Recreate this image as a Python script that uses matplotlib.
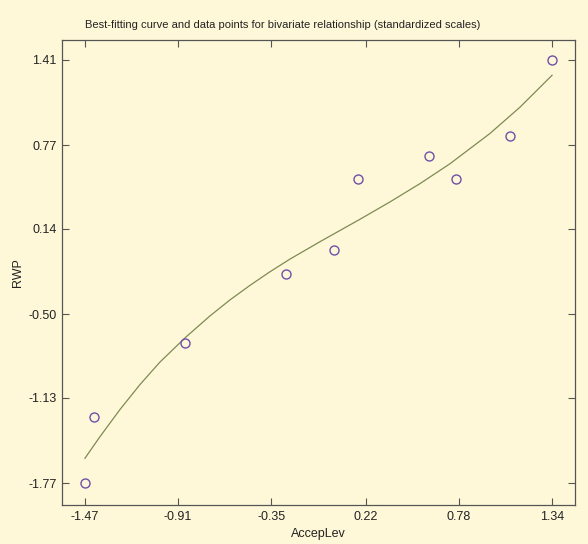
import matplotlib
matplotlib.use("Agg")
import matplotlib.pyplot as plt

# Observed data points (standardized scales)
accep_lev = [-1.47, -1.416, -0.868, -0.26, 0.028, 0.172, 0.60, 0.762, 1.086, 1.34]
rwp = [-1.77, -1.27, -0.718, -0.198, -0.018, 0.516, 0.687, 0.516, 0.838, 1.41]

# Best-fitting curve
curve_x = [-1.470, -1.380, -1.259, -1.139, -1.019, -0.862, -0.718, -0.598, -0.477, -0.357,
           -0.237, -0.056, 0.185, 0.365, 0.546, 0.726, 0.967, 1.147, 1.340]
curve_y = [-1.584, -1.422, -1.217, -1.030, -0.861, -0.672, -0.514, -0.394, -0.284, -0.182,
           -0.087, 0.044, 0.213, 0.343, 0.481, 0.630, 0.858, 1.055, 1.295]

x_ticks = [-1.47, -0.91, -0.35, 0.22, 0.78, 1.34]
y_ticks = [-1.77, -1.13, -0.50, 0.14, 0.77, 1.41]

bg = "#fff8d8"
plt.rcParams["font.family"] = ["Liberation Sans", "DejaVu Sans"]

fig = plt.figure(figsize=(5.88, 5.44), dpi=100, facecolor=bg)
ax = fig.add_axes([62 / 588, 39 / 544, 513 / 588, 465 / 544], facecolor=bg)

ax.plot(curve_x, curve_y, color="#7d8a55", linewidth=0.9)
ax.plot(accep_lev, rwp, linestyle="none", marker="o", markersize=6.5,
        markerfacecolor="none", markeredgecolor="#6f50a8", markeredgewidth=1.0)

ax.set_xlim(-1.608, 1.478)
ax.set_ylim(-1.935, 1.56)
ax.set_xticks(x_ticks)
ax.set_xticklabels(["%.2f" % v for v in x_ticks])
ax.set_yticks(y_ticks)
ax.set_yticklabels(["%.2f" % v for v in y_ticks])
ax.tick_params(direction="in", length=5, width=0.8, color="#555555",
               labelsize=9, labelcolor="#222222", top=True, right=True, pad=4)
for spine in ax.spines.values():
    spine.set_color("#555555")
    spine.set_linewidth(0.9)

ax.set_xlabel("AccepLev", fontsize=9, color="#222222", labelpad=4)
ax.set_ylabel("RWP", fontsize=9, color="#222222", labelpad=3)
fig.text(283 / 588, 1 - 25 / 544, "Best-fitting curve and data points for bivariate relationship (standardized scales)",
         ha="center", va="center", fontsize=8.0, color="#222222")

fig.savefig("out.png", dpi=100, facecolor=bg)
